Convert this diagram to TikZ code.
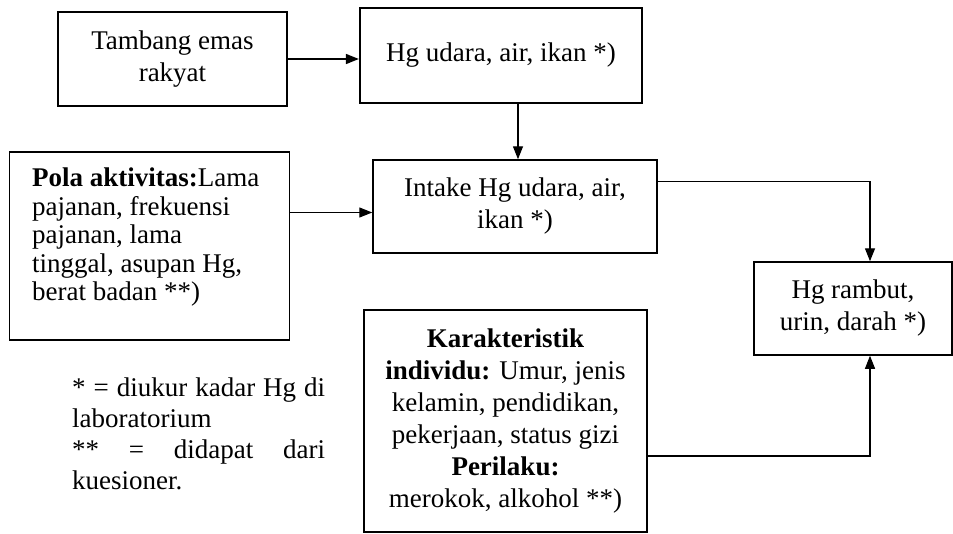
\documentclass[tikz,border=0pt]{standalone}
\usepackage{fontspec}
\setmainfont{Liberation Serif}
\usetikzlibrary{arrows.meta,calc}
\newcommand\diafont{\fontsize{27}{32}\selectfont}
\newcommand\polafont{\fontsize{27}{28.5}\selectfont}
\newcommand\notefont{\fontsize{27}{31}\selectfont}
\begin{document}
\begin{tikzpicture}[x=1pt,y=-1pt,
  box/.style={draw, line width=1.5pt, rectangle, inner sep=0pt, align=center, font=\diafont},
  arr/.style={line width=1.4pt, -{Triangle[length=13pt,width=10pt]}},
  thinarr/.style={line width=1.1pt, -{Triangle[length=13pt,width=10pt]}}]
\useasboundingbox (0,0) rectangle (953,533);

\node[box, line width=2.2pt, minimum width=229pt, minimum height=94pt] (b1) at (172.5,59) {Tambang emas\\rakyat};
\node[box, line width=2.2pt, minimum width=282pt, minimum height=95pt] (b2) at (501,55.5) {Hg udara, air, ikan *)};
\node[box, minimum width=284pt, minimum height=93pt] (b3) at (515,206.5) {Intake Hg udara, air,\\ikan *)};
\node[box, minimum width=280pt, minimum height=188pt] (pola) at (149.5,246) {};
\node[anchor=north west, inner sep=0pt, align=left, font=\polafont] (polatext) at (32,168)
  {\textbf{Pola aktivitas:}Lama\\pajanan, frekuensi\\pajanan, lama\\tinggal, asupan Hg,\\berat badan **)};
\node[box, minimum width=198pt, minimum height=93pt] (b5) at (853,308.5) {Hg rambut,\\urin, darah *)};
\node[box, minimum width=283pt, minimum height=222pt] (kar) at (505.5,421)
  {\textbf{Karakteristik}\\\textbf{individu:} Umur, jenis\\kelamin, pendidikan,\\pekerjaan, status gizi\\\textbf{Perilaku:}\\merokok, alkohol **)};
\node[anchor=north west, inner sep=0pt, font=\notefont, align=left] (note) at (72,378)
  {\makebox[253pt][s]{* = diukur kadar Hg di}\\laboratorium\\\makebox[253pt][s]{** = didapat dari}\\kuesioner.};

\draw[arr] (b1.east) -- (b1.east -| b2.west);
\draw[arr] ([xshift=3pt]b3.north |- b2.south) -- ([xshift=3pt]b3.north);
\draw[thinarr] ([yshift=-6pt]b3.west -| pola.east) -- ([yshift=-6pt]b3.west);
\draw[arr] ([yshift=25pt]b3.east) -| ([xshift=17pt]b5.north);
\draw[thinarr] ([yshift=-35pt]kar.east) -| ([xshift=17pt]b5.south);
\end{tikzpicture}
\end{document}
